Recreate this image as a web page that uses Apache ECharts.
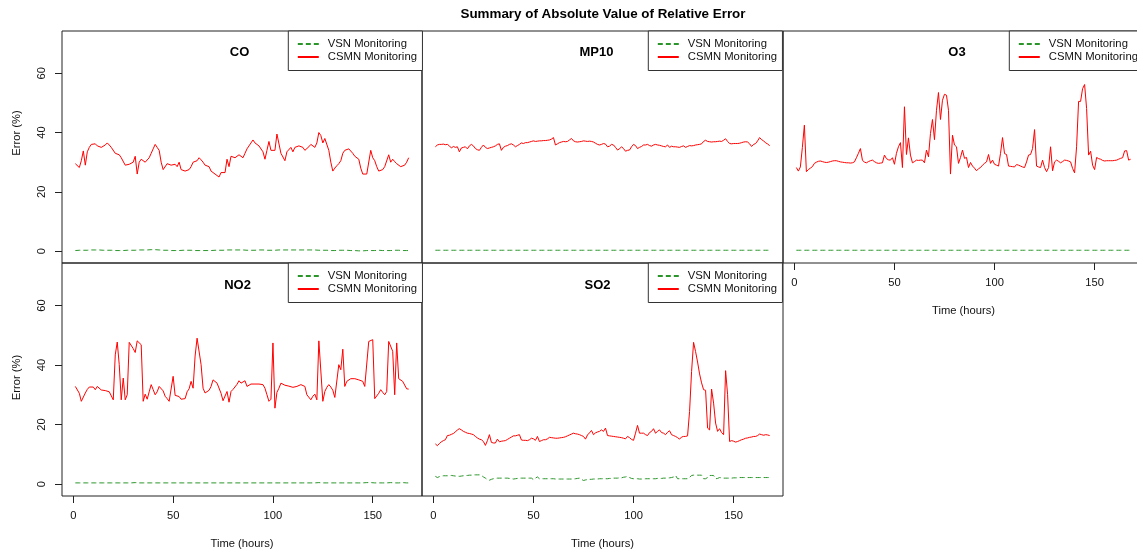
<!DOCTYPE html>
<html><head><meta charset="utf-8">
<script src="https://cdn.jsdelivr.net/npm/echarts@6/dist/echarts.min.js"></script>
<style>html,body{margin:0;padding:0;background:#fff}#c{width:1137px;height:551px}</style>
</head><body><div id="c"></div>
<script>
const hours = []; for (let h = 1; h <= 168; h++) hours.push(h);
const xTicks = [0, 50, 100, 150];
const yTicks = [0, 20, 40, 60];
const seriesNames = ['VSN Monitoring', 'CSMN Monitoring'];
const mainTitle = 'Summary of Absolute Value of Relative Error';

const coVsn = [0.2,0.2,0.3,0.3,0.3,0.3,0.3,0.3,0.4,0.4,
0.4,0.4,0.4,0.3,0.3,0.3,0.3,0.3,0.3,0.2,
0.2,0.2,0.2,0.2,0.2,0.3,0.3,0.3,0.3,0.3,
0.3,0.3,0.4,0.4,0.4,0.4,0.4,0.4,0.5,0.5,
0.5,0.4,0.4,0.4,0.3,0.3,0.3,0.2,0.2,0.2,
0.2,0.2,0.2,0.2,0.3,0.3,0.3,0.3,0.3,0.3,
0.2,0.2,0.2,0.2,0.2,0.2,0.2,0.2,0.2,0.2,
0.3,0.3,0.3,0.3,0.3,0.4,0.4,0.4,0.4,0.4,
0.4,0.4,0.4,0.4,0.4,0.4,0.3,0.3,0.3,0.3,
0.3,0.3,0.4,0.4,0.4,0.4,0.3,0.3,0.3,0.3,
0.3,0.3,0.4,0.4,0.4,0.4,0.4,0.4,0.4,0.4,
0.4,0.4,0.4,0.4,0.4,0.4,0.4,0.4,0.4,0.4,
0.4,0.3,0.3,0.3,0.3,0.3,0.3,0.3,0.2,0.2,
0.2,0.2,0.3,0.3,0.3,0.3,0.3,0.3,0.2,0.2,
0.2,0.2,0.1,0.1,0.1,0.1,0.2,0.2,0.2,0.2,
0.2,0.3,0.3,0.3,0.2,0.2,0.2,0.2,0.2,0.2,
0.3,0.3,0.3,0.2,0.2,0.2,0.2,0.2];
const coCsmn = [29.5,29,28.2,30.5,33.8,29,33.5,35,36,36.5,
36.2,35.5,35.2,35,35.5,35.8,36.5,35.8,35,35,
33,32.8,32.5,31.5,31,29,29.2,29.3,29,30,
32,26,30,31,30.5,30,29.5,31.5,33,34.5,
36,35,34,30,27.5,27,29.5,29.2,29,29.5,
29.3,28.5,30,27.5,27.3,27,27.2,27.5,28.5,30,
30.2,30.5,31.5,30.8,30,29,28.8,28.5,27,26.8,
26,25.5,25,26.5,26.5,26.5,31,28.5,32,31.5,
31.5,32,32.5,32,31.5,33,34.5,35.5,36.5,37.5,
36.5,36,35.5,36,33.5,31,34,37,34,34.5,
34,39.5,39,33,33,30.5,33.5,33.5,35,33.5,
35,35.5,35.5,35.5,35,34,34.5,35.2,36,35.5,
35,36.5,40,39,36.5,38,37.5,34,30,27,
28,28.8,29.5,30.5,33,34,34,34.5,34,33,
32,31.5,31,28,26,26,26,26.2,34,31.5,
30.5,28.5,27,27,27.5,28.5,29,32.5,30,31,
30.2,29.5,29,28.5,28,29,30,31.5];

const mp10Vsn = [0.3,0.3,0.3,0.3,0.3,0.3,0.3,0.3,0.3,0.3,
0.3,0.3,0.3,0.3,0.3,0.3,0.3,0.3,0.3,0.3,
0.3,0.3,0.3,0.3,0.3,0.3,0.3,0.3,0.3,0.3,
0.3,0.3,0.3,0.3,0.3,0.3,0.3,0.3,0.3,0.3,
0.3,0.3,0.3,0.3,0.3,0.3,0.3,0.3,0.3,0.3,
0.3,0.3,0.3,0.3,0.3,0.3,0.3,0.3,0.3,0.3,
0.3,0.3,0.3,0.3,0.3,0.3,0.3,0.3,0.3,0.3,
0.3,0.3,0.3,0.3,0.3,0.3,0.3,0.3,0.3,0.3,
0.3,0.3,0.3,0.3,0.3,0.3,0.3,0.3,0.3,0.3,
0.3,0.3,0.3,0.3,0.3,0.3,0.3,0.3,0.3,0.3,
0.3,0.3,0.3,0.3,0.3,0.3,0.3,0.3,0.3,0.3,
0.3,0.3,0.3,0.3,0.3,0.3,0.3,0.3,0.3,0.3,
0.3,0.3,0.3,0.3,0.3,0.3,0.3,0.3,0.3,0.3,
0.3,0.3,0.3,0.3,0.3,0.3,0.3,0.3,0.3,0.3,
0.3,0.3,0.3,0.3,0.3,0.3,0.3,0.3,0.3,0.3,
0.3,0.3,0.3,0.3,0.3,0.3,0.3,0.3,0.3,0.3,
0.3,0.3,0.3,0.3,0.3,0.3,0.3,0.3];
const mp10Csmn = [35.2,35.8,36,36,36.1,35.9,36,35.5,34.8,35.3,
35,35.2,33.5,34.8,35,35.2,34.5,35.5,36,35.5,
34.6,34.2,34,35,35.8,35,34.6,34.8,35,35.2,
35.5,36,36.2,34,35,35.4,35.6,36,36.2,35.8,
35.2,35.6,36,36.5,36.3,36.6,36.6,36.8,37,37.2,
37,37.1,37.2,37.2,37.3,37.3,37.4,37.5,37.8,38.3,
35.8,36.2,36.6,36.8,37,36.9,37,37.5,38,37.2,
36.9,36.8,36.9,37,37.2,37.1,37,37.1,37,36.8,
36.4,36,35.8,36,36.3,36.1,35.2,35.4,36,35.8,
35,34.1,34.5,35.2,34.6,33.7,34,34.1,35.2,36,
35.6,34.6,35,35.3,35.8,35.8,36,35.6,35.4,35.8,
36,35.8,35.7,35.5,35.3,35.2,35.8,35,35.4,35.2,
35.2,35.1,35,35.3,35.5,35,35.3,35.6,35.5,35.6,
35.8,35.9,36,36.2,37,37.4,37,36.9,36.8,36.9,
36.9,37,37.1,37,37.4,37.9,37,36.3,36.2,36.3,
36.3,36.3,36.4,36.6,36.8,36.9,36.8,36.2,35.3,36,
36.3,37.2,38.3,37.6,37.2,36.5,36.2,35.5];

const o3Vsn = [0.3,0.3,0.3,0.3,0.3,0.3,0.3,0.3,0.3,0.3,
0.3,0.3,0.3,0.3,0.3,0.3,0.3,0.3,0.3,0.3,
0.3,0.3,0.3,0.3,0.3,0.3,0.3,0.3,0.3,0.3,
0.3,0.3,0.3,0.3,0.3,0.3,0.3,0.3,0.3,0.3,
0.3,0.3,0.3,0.3,0.3,0.3,0.3,0.3,0.3,0.3,
0.3,0.3,0.3,0.3,0.3,0.3,0.3,0.3,0.3,0.3,
0.3,0.3,0.3,0.3,0.3,0.3,0.3,0.3,0.3,0.3,
0.3,0.3,0.3,0.3,0.3,0.3,0.3,0.3,0.3,0.3,
0.3,0.3,0.3,0.3,0.3,0.3,0.3,0.3,0.3,0.3,
0.3,0.3,0.3,0.3,0.3,0.3,0.3,0.3,0.3,0.3,
0.3,0.3,0.3,0.3,0.3,0.3,0.3,0.3,0.3,0.3,
0.3,0.3,0.3,0.3,0.3,0.3,0.3,0.3,0.3,0.3,
0.3,0.3,0.3,0.3,0.3,0.3,0.3,0.3,0.3,0.3,
0.3,0.3,0.3,0.3,0.3,0.3,0.3,0.3,0.3,0.3,
0.3,0.3,0.3,0.3,0.3,0.3,0.3,0.3,0.3,0.3,
0.3,0.3,0.3,0.3,0.3,0.3,0.3,0.3,0.3,0.3,
0.3,0.3,0.3,0.3,0.3,0.3,0.3,0.3];
const o3Csmn = [28.2,27,28.4,35,42.5,26.8,27.5,28,28.5,29.6,
30,30.3,30.4,30.2,30,29.9,30,30.2,30.4,30.5,
30.5,30.3,30.1,30,29.9,29.8,29.8,29.7,29.8,30.1,
31.5,33,34.6,30.7,30,29.8,30.2,30.5,30.7,30.2,
29.8,29.6,29.7,29.8,32.4,31.2,30.8,30.7,31.5,29.3,
33,35.2,36.6,28.2,48.7,32.6,38.2,32.4,29.8,30.2,
30.7,30.6,30.7,30.7,29.8,34.1,31.8,39.7,44.4,37.6,
47.5,53.5,44.4,50.9,52.9,52.6,47.5,26,39.1,35.8,
35.2,29.6,31.6,34.1,31.3,31.6,28.2,29.9,28.7,28,
27.1,27.8,28.2,29,29.6,30.1,32.6,29.6,30.7,29.3,
29,28.7,33,38.3,32.9,32.6,28.7,28.6,28.5,28.4,
29.2,29,28.7,28.4,28.2,30.1,32.4,32.6,34.6,41,
28.7,28.4,28.2,30.7,28.2,26.8,28.2,35.2,27.1,30.1,
30.7,30.3,29.8,30.2,30.7,30.6,30.4,30.1,27.9,26.4,
35.2,50.5,50.5,54.8,56.2,48.1,32.4,33.7,29,27.5,
31.6,31.2,31,30.6,30.4,30.5,30.5,30.5,30.5,30.6,
30.7,31,31.3,31.5,33.8,33.9,30.7,31];

const no2Vsn = [0.4,0.4,0.4,0.4,0.4,0.4,0.4,0.4,0.4,0.4,
0.4,0.4,0.4,0.4,0.4,0.4,0.4,0.4,0.4,0.4,
0.4,0.4,0.4,0.4,0.4,0.4,0.4,0.4,0.4,0.5,
0.5,0.5,0.4,0.4,0.4,0.4,0.4,0.4,0.4,0.4,
0.4,0.4,0.4,0.4,0.4,0.4,0.4,0.4,0.4,0.4,
0.4,0.4,0.4,0.4,0.4,0.4,0.4,0.4,0.4,0.4,
0.4,0.4,0.4,0.4,0.4,0.4,0.4,0.4,0.4,0.4,
0.4,0.4,0.4,0.4,0.4,0.4,0.4,0.4,0.4,0.4,
0.4,0.4,0.4,0.4,0.4,0.4,0.4,0.4,0.4,0.4,
0.4,0.4,0.4,0.4,0.4,0.4,0.4,0.4,0.4,0.4,
0.4,0.4,0.4,0.4,0.4,0.4,0.4,0.4,0.4,0.4,
0.4,0.4,0.4,0.4,0.4,0.4,0.4,0.4,0.4,0.4,
0.4,0.4,0.5,0.5,0.4,0.4,0.4,0.4,0.4,0.4,
0.4,0.4,0.4,0.4,0.4,0.4,0.4,0.4,0.4,0.4,
0.4,0.4,0.4,0.4,0.4,0.4,0.5,0.5,0.5,0.5,
0.4,0.4,0.4,0.4,0.4,0.4,0.4,0.5,0.5,0.4,
0.4,0.4,0.4,0.5,0.5,0.5,0.4,0.4];
const no2Csmn = [32.8,32.6,30.5,27.8,28.3,30.6,31.8,32.6,33,32.6,
31.7,32.8,32.2,31.6,31.5,31.4,31.3,31,30.5,28.3,
43.4,47.7,40.1,28.3,35.6,28.3,30,47.6,47,45.5,
44.2,48.1,48.7,46.8,27.8,30.2,28.5,31,33.4,31.7,
30,31,32.8,32.2,31.3,29.5,28.7,27.8,28,36.2,
29.8,29.5,29.4,28.5,28.3,28.7,31,32,34.5,32.2,
43,49,48.8,40.1,32.2,30.6,30.2,31.5,32.8,35,
34.5,33.9,33.4,30.5,28,28.3,31.1,27.5,31.1,31.8,
32.2,33.5,34.7,33.9,34.2,34.7,32.8,33.2,33.6,33.9,
33.6,33.4,33.6,33.9,33.4,32.2,30,27.8,28.5,47.4,
25.5,30.8,32.2,33.9,33.5,33.2,33,32.9,32.7,32.5,
32.6,32.8,33.1,33.4,33.1,32.8,30,29.5,28.3,29.5,
30.2,28.3,48.1,47.7,27.8,31.1,32.5,33.4,32.6,31.5,
29.1,29.4,40.1,38.4,45.3,32.8,34.5,35,35.4,35.6,
35.4,35.2,35,34.8,34.5,32.8,32.5,47.9,48.2,48.5,
28.7,28.5,30.5,31.7,30.8,30,31.1,47.9,47.7,44.6,
30,47.4,35.4,35.4,34.5,33.9,32,31.9];

const so2Vsn = [2.6,2.2,2.5,2.7,2.8,2.8,2.8,2.8,2.9,2.8,
2.7,2.7,2.6,2.7,2.8,2.9,2.9,3,3,3.1,
3.1,3.1,3.1,2.9,2.4,2,1.5,1.3,1.6,1.8,
1.9,2,2,2,2,2,2,1.9,1.8,1.7,
1.8,1.9,2,2,2,2,2,2,2,1.5,
2,2.4,1.8,1.8,1.8,1.8,1.8,1.8,1.8,1.8,
1.7,1.7,1.7,1.7,1.7,1.7,1.7,1.7,1.7,1.7,
1.8,1.9,2,1.6,1.2,1.4,1.5,1.6,1.6,1.7,
1.7,1.7,1.8,1.8,1.8,1.8,1.8,1.9,1.9,2,
2,2,2.1,2.1,2.3,2.4,2.6,2.2,1.9,1.8,
1.8,1.8,1.7,1.7,1.7,1.8,1.8,1.8,1.8,1.8,
1.8,1.9,1.9,1.9,2,2,2,2.1,2.2,2.4,
2.9,1.8,1.8,1.8,1.8,1.8,1.8,2.2,2.9,3,
3,3,3,3,1.8,1.8,2.2,2.9,2.9,2.9,
1.8,1.9,2.2,2.1,2,2,2,2,2,2.1,
2.1,2.1,2.2,2.2,2.2,2.2,2.2,2.2,2.2,2.2,
2.2,2.2,2.2,2.2,2.2,2.2,2.2,2.2];
const so2Csmn = [13.5,12.9,13.6,14.2,14.6,14.9,16.3,16.4,16.7,17,
17.5,18.2,18.6,18.2,17.7,17.4,17.1,17,16.8,16.6,
16,15.5,15.1,14.9,14.3,13,14.6,16.6,14,13.8,
13.8,15.1,14.2,14.4,14.5,14.6,15,15.4,15.8,16.2,
16.2,16.4,16.6,14.8,14.7,14.7,14.6,14.9,15.4,15.2,
14.7,16,14.3,14.6,14.9,14.9,15.2,15.7,15.6,15.5,
15.4,15.4,15.5,15.6,15.7,15.9,16.2,16.5,16.8,17.1,
16.9,16.8,16.6,16.3,16,15.1,16.5,17.2,18,16.6,
17.2,17.5,17.7,18.2,17.7,18.8,16.3,16.2,16.1,16,
15.9,15.8,15.7,15.6,15.4,15.2,16,15.6,15,14.7,
17.1,19.7,17.1,17.1,17.1,16.6,16.3,17.3,17.7,18.6,
17.1,17.7,18.2,17.3,17.1,16.6,17.4,17.9,16.6,16.3,
16,15.6,15.1,15.8,16,16,16.2,24.4,37.8,47.6,
44.5,41,37,34,31.7,31.5,18.8,18.2,31.9,27.2,
20.5,17.7,18.6,17.3,16.6,38.1,30,14.3,14.6,14.4,
14.1,14.3,14.6,14.9,15.1,15.4,15.5,15.7,15.8,16,
16,16.3,16.8,16.6,16.4,16.6,16.5,16.3];

const panelTitles = ['CO', 'MP10', 'O3', 'NO2', 'SO2'];
const vsnData = [coVsn, mp10Vsn, o3Vsn, no2Vsn, so2Vsn];
const csmnData = [coCsmn, mp10Csmn, o3Csmn, no2Csmn, so2Csmn];

const FONT = '"Liberation Sans", Arial, Helvetica, sans-serif';
const layout = [
  {left: 62,  top: 31,  width: 360, height: 232, yLab: true,  xLab: false, tx: 239.5, ty: 46,  yPad: 28},
  {left: 422, top: 31,  width: 361, height: 232, yLab: false, xLab: false, tx: 596.5, ty: 46,  yPad: 0},
  {left: 783, top: 31,  width: 361, height: 232, yLab: false, xLab: true,  tx: 957,   ty: 46,  yPad: 0},
  {left: 62,  top: 263, width: 360, height: 233, yLab: true,  xLab: true,  tx: 237.5, ty: 278.5, yPad: 4},
  {left: 422, top: 263, width: 361, height: 233, yLab: false, xLab: true,  tx: 597.5, ty: 278.5, yPad: 0}
];

const grids = [], xAxes = [], yAxes = [], series = [], legends = [];
const titles = [{
  text: mainTitle, left: 603, top: 7.5, textAlign: 'center', padding: 0,
  textStyle: {fontFamily: FONT, fontSize: 13.4, fontWeight: 'bold', color: '#000'}
}];
layout.forEach((p, i) => {
  grids.push({left: p.left, top: p.top, width: p.width, height: p.height, show: true,
    borderColor: '#222', borderWidth: 1, backgroundColor: 'transparent', containLabel: false, outerBoundsMode: 'none'});
  xAxes.push({type: 'value', gridIndex: i, min: -5.68, max: 174.68, position: 'bottom',
    splitLine: {show: false}, axisLine: {show: false, onZero: false},
    axisTick: {show: p.xLab, inside: false, length: 7, customValues: xTicks, lineStyle: {color: '#222'}},
    axisLabel: {show: p.xLab, customValues: xTicks, margin: 14, fontSize: 11.2, color: '#111', fontFamily: FONT},
    name: p.xLab ? 'Time (hours)' : '', nameLocation: 'middle', nameGap: 42,
    nameTextStyle: {fontSize: 11.2, color: '#111', fontFamily: FONT}});
  yAxes.push({type: 'value', gridIndex: i, min: -4, max: 74.25, position: 'left',
    splitLine: {show: false}, axisLine: {show: false, onZero: false},
    axisTick: {show: p.yLab, inside: false, length: 7, customValues: yTicks, lineStyle: {color: '#222'}},
    axisLabel: {show: p.yLab, customValues: yTicks, rotate: 90, margin: 15, fontSize: 11.2, color: '#111', fontFamily: FONT},
    name: p.yLab ? 'Error (%)' : '', nameLocation: 'middle', nameRotate: 90, nameGap: 40,
    nameTextStyle: {fontSize: 11.2, color: '#111', fontFamily: FONT, padding: [0, 0, 0, p.yPad]}});
  titles.push({text: panelTitles[i], left: p.tx, top: p.ty, textAlign: 'center', padding: 0,
    textStyle: {fontFamily: FONT, fontSize: 13, fontWeight: 'bold', color: '#000'}});
  series.push({name: seriesNames[0], type: 'line', xAxisIndex: i, yAxisIndex: i,
    data: hours.map((h, j) => [h, vsnData[i][j]]), showSymbol: false, symbol: 'none',
    lineStyle: {color: '#2a962a', width: 1, type: [5, 3]}, itemStyle: {color: '#2a962a'}, animation: false});
  series.push({name: seriesNames[1], type: 'line', xAxisIndex: i, yAxisIndex: i,
    data: hours.map((h, j) => [h, csmnData[i][j]]), showSymbol: false, symbol: 'none',
    lineStyle: {color: '#FF0000', width: 1}, itemStyle: {color: '#FF0000'}, animation: false});
  legends.push({data: seriesNames, orient: 'vertical', left: p.left + 226.3, top: p.top,
    padding: [7.5, 5.5, 8, 8.5], itemGap: 2, itemWidth: 21, itemHeight: 11,
    borderColor: '#333', borderWidth: 1, backgroundColor: '#fff', selectedMode: false,
    itemStyle: {opacity: 0},
    textStyle: {fontSize: 11.3, color: '#111', fontFamily: FONT, padding: [0, 0, 0, 4]}});
});

const chart = echarts.init(document.getElementById('c'), null, {renderer: 'canvas'});
chart.setOption({
  animation: false,
  backgroundColor: '#fff',
  title: titles,
  grid: grids,
  xAxis: xAxes,
  yAxis: yAxes,
  legend: legends,
  series: series
});
</script></body></html>
